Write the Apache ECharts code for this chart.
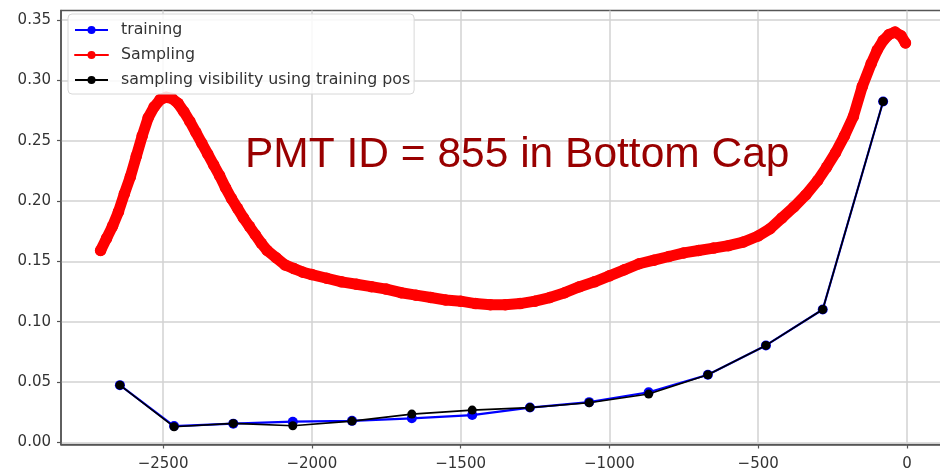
<!DOCTYPE html>
<html>
<head>
<meta charset="utf-8">
<script src="https://cdn.jsdelivr.net/npm/echarts@6/dist/echarts.min.js"></script>
<style>
html,body{margin:0;padding:0;background:#fff;}
#c{width:940px;height:471px;}
</style>
</head>
<body>
<div id="c"></div>
<script>
// ---- data ----
const xTicks = [-2500, -2000, -1500, -1000, -500, 0];
const yTicks = [0, 0.05, 0.10, 0.15, 0.20, 0.25, 0.30, 0.35];

const seriesNames = ['training', 'Sampling', 'sampling visibility using training pos'];

const trainingPos = [-2645, -2463, -2264, -2064, -1865, -1664, -1461, -1267, -1068, -868, -669, -474, -283, -80];
const trainingVis = [0.0474, 0.0135, 0.0155, 0.0171, 0.0178, 0.0199, 0.0226, 0.0288, 0.0333, 0.0415, 0.0560, 0.0803, 0.1101, 0.2825];
const samplingVisAtTrainingPos = [0.0474, 0.0129, 0.0157, 0.0137, 0.0176, 0.0234, 0.0267, 0.0288, 0.0328, 0.0400, 0.0560, 0.0803, 0.1101, 0.2825];

const samplingX = [-2710, -2690, -2670, -2650, -2630, -2610, -2590, -2570, -2550, -2530, -2510, -2490, -2470, -2450, -2430, -2410, -2390, -2370, -2350, -2330, -2310, -2290, -2270, -2250, -2230, -2210, -2190, -2170, -2150, -2120, -2090, -2060, -2030, -2000, -1950, -1900, -1850, -1800, -1750, -1700, -1650, -1600, -1550, -1500, -1450, -1400, -1350, -1300, -1250, -1200, -1150, -1100, -1050, -1000, -950, -900, -850, -800, -750, -700, -650, -600, -550, -500, -460, -420, -380, -340, -300, -270, -240, -210, -180, -150, -120, -100, -80, -60, -40, -20, -5];
const samplingY = [0.159, 0.169, 0.179, 0.191, 0.206, 0.220, 0.237, 0.254, 0.269, 0.278, 0.284, 0.286, 0.285, 0.281, 0.274, 0.266, 0.257, 0.248, 0.239, 0.230, 0.221, 0.211, 0.202, 0.194, 0.186, 0.179, 0.172, 0.165, 0.159, 0.153, 0.147, 0.144, 0.141, 0.139, 0.136, 0.133, 0.131, 0.129, 0.127, 0.124, 0.122, 0.120, 0.118, 0.117, 0.115, 0.114, 0.114, 0.115, 0.117, 0.120, 0.124, 0.129, 0.133, 0.138, 0.143, 0.148, 0.151, 0.154, 0.157, 0.159, 0.161, 0.163, 0.166, 0.171, 0.177, 0.186, 0.195, 0.205, 0.217, 0.228, 0.240, 0.254, 0.270, 0.295, 0.314, 0.325, 0.333, 0.338, 0.340, 0.337, 0.331];

const annotation = 'PMT ID = 855 in Bottom Cap';

// ---- chart ----
const zip = (xs, ys) => xs.map((x, i) => [x, ys[i]]);
const fmtX = v => (v < 0 ? '\u2212' + Math.abs(v) : String(v));
const chart = echarts.init(document.getElementById('c'), null, {renderer: 'canvas'});
const tickFont = {fontFamily: 'DejaVu Sans', fontSize: 15, color: '#333'};

chart.setOption({
  animation: false,
  backgroundColor: '#fff',
  grid: {left: 61, top: 10.5, width: 887, height: 434, show: true, borderColor: '#555', borderWidth: 1.5,
         containLabel: false, outerBoundsMode: 'none'},
  xAxis: {
    type: 'value', min: -2843, max: 138,
    axisLine: {show: true, onZero: false, lineStyle: {color: '#555', width: 1.5}},
    axisTick: {show: true, customValues: xTicks, length: 4, lineStyle: {color: '#555', width: 1.2}},
    axisLabel: Object.assign({customValues: xTicks, margin: 12, formatter: fmtX}, tickFont),
    splitLine: {show: true, lineStyle: {color: '#d2d2d2', width: 1.5}}
  },
  yAxis: {
    type: 'value', min: -0.0018, max: 0.3579,
    axisLine: {show: true, onZero: false, lineStyle: {color: '#555', width: 1.5}},
    axisTick: {show: true, customValues: yTicks, length: 4, lineStyle: {color: '#555', width: 1.2}},
    axisLabel: Object.assign({customValues: yTicks, margin: 10, formatter: v => v.toFixed(2)}, tickFont),
    splitLine: {show: true, lineStyle: {color: '#d2d2d2', width: 1.5}}
  },
  legend: {
    orient: 'vertical', left: 68, top: 14,
    data: seriesNames,
    itemWidth: 33, itemHeight: 10, itemGap: 9,
    padding: [8, 4, 6, 6],
    backgroundColor: 'rgba(255,255,255,0.85)',
    borderColor: '#d8d8d8', borderWidth: 1, borderRadius: 4,
    lineStyle: {width: 2},
    textStyle: {fontFamily: 'DejaVu Sans', fontSize: 15.8, color: '#333', padding: [0, 0, 0, 8]}
  },
  graphic: [{
    type: 'text', left: 245, top: 134, z: 100,
    style: {text: annotation, font: '42.5px "Liberation Sans", Arial, sans-serif', fill: '#990000'}
  }],
  series: [
    {
      name: seriesNames[1], type: 'line', data: zip(samplingX, samplingY),
      symbol: 'circle', symbolSize: 11.5, z: 2,
      itemStyle: {color: '#ff0000'},
      lineStyle: {color: '#ff0000', width: 11, cap: 'round', join: 'round'}
    },
    {
      name: seriesNames[0], type: 'line', data: zip(trainingPos, trainingVis),
      symbol: 'circle', symbolSize: 10, z: 3,
      itemStyle: {color: '#0000ff'},
      lineStyle: {color: '#0000ff', width: 2.2}
    },
    {
      name: seriesNames[2], type: 'line', data: zip(trainingPos, samplingVisAtTrainingPos),
      symbol: 'circle', symbolSize: 9, z: 4,
      itemStyle: {color: '#000000'},
      lineStyle: {color: '#000000', width: 1.6}
    }
  ]
});
</script>
</body>
</html>
